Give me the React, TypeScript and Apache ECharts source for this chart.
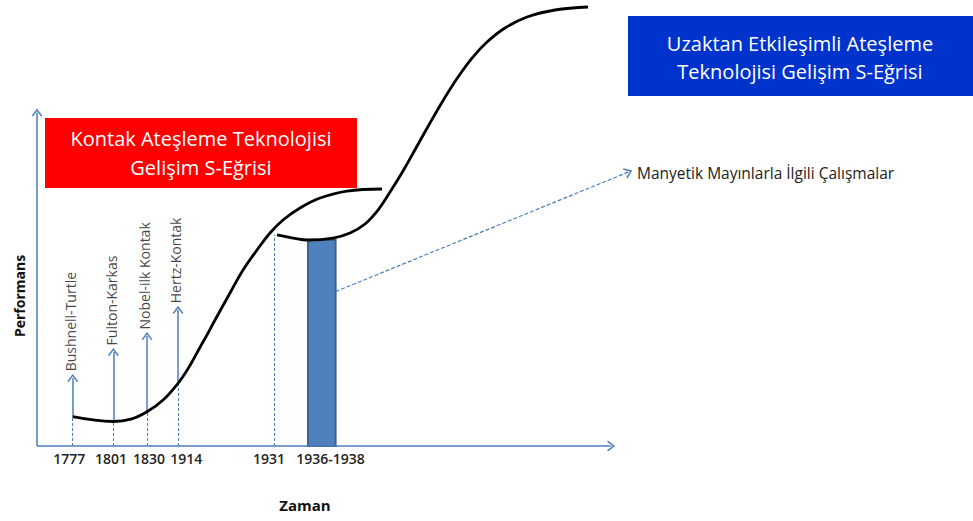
import React, { useEffect, useRef } from "react";
import * as echarts from "echarts";

// Abstract time positions (x) and performance (y)
const tickLabels = ["1777", "1801", "1830", "1914", "1931", "1936-1938"];
const tickLabelPos = [5.6, 12.9, 19.5, 26.0, 40.4, 51.1];

const contactX = [6.22, 13.24, 19.16, 24.56, 28.91, 31.0, 33.61, 35.88, 38.31, 40.58, 42.84, 45.8, 49.29, 53.99, 60.08];
const contactY = [8.82, 7.38, 10.33, 18.88, 31.32, 37.94, 46.07, 53.0, 59.02, 64.14, 68.05, 71.67, 74.68, 76.78, 77.39];

const remoteX = [41.8, 44.58, 47.2, 51.55, 54.51, 57.12, 59.39, 61.48, 63.74, 66.0, 68.44, 70.88, 73.32, 75.76, 78.37, 81.5, 85.34, 90.21, 95.96];
const remoteY = [63.54, 62.63, 62.03, 62.63, 64.14, 66.85, 71.06, 76.48, 82.81, 89.73, 97.26, 104.49, 111.11, 116.83, 121.65, 125.87, 129.18, 131.29, 132.19];

const milestoneNames = ["Bushnell-Turtle", "Fulton-Karkas", "Nobel-ilk Kontak", "Hertz-Kontak"];
const milestonePos = [6.22, 13.3, 19.16, 24.56];
const milestoneCurveY = [8.82, 7.38, 10.33, 18.88];
const milestoneTipY = [20.5, 28.3, 33.1, 41.0];

const year1931Pos = 41.3;
const year1931Y = 63.5;
const magneticRange = [47.2, 52.0];
const magneticTop = 62.0;
const magneticArrowFrom = [52.0, 46.5];
const magneticArrowTo = [103.0, 82.5];
const axisEnd = [100, 100.4];

const AXIS_COLOR = "#4A7EBB";
const CHEVRON = "path://M0,10 L6,0 L12,10 L10.4,10.9 L6,3.2 L1.6,10.9 Z";

function seg(from: number[], to: number[], style: any, arrow: boolean) {
  return [
    { coord: from, symbol: "none", lineStyle: style },
    { coord: to, symbol: arrow ? CHEVRON : "none", symbolSize: [11, 8], lineStyle: style },
  ];
}

export default function App() {
  const ref = useRef<HTMLDivElement>(null);
  useEffect(() => {
    if (!ref.current) return;
    const chart = echarts.init(ref.current, undefined, { renderer: "svg" });

    const solid = { color: AXIS_COLOR, width: 1.5, type: "solid" };
    const dashed = { color: AXIS_COLOR, width: 1.2, type: [4, 2] };
    const thinDashed = { color: AXIS_COLOR, width: 1, type: [3, 2] };

    const lines: any[] = [
      seg([0, 0], [0, axisEnd[1]], solid, true),
      seg([0, 0], [axisEnd[0], 0], solid, true),
      seg([year1931Pos, 0], [year1931Pos, year1931Y], thinDashed, false),
      seg(magneticArrowFrom, magneticArrowTo, dashed, true),
    ];
    milestonePos.forEach((x, i) => {
      lines.push(seg([x, 0], [x, milestoneCurveY[i]], thinDashed, false));
      lines.push(seg([x, milestoneCurveY[i]], [x, milestoneTipY[i]], solid, true));
    });

    chart.setOption({
      animation: false,
      grid: { left: 37, top: 1, width: 936, height: 445 },
      xAxis: {
        type: "value",
        min: 0,
        max: 163,
        axisLine: { show: false },
        axisTick: { show: false },
        splitLine: { show: false },
        axisLabel: {
          customValues: tickLabelPos,
          margin: 5,
          color: "#222",
          fontFamily: "Open Sans",
          fontSize: 14,
          fontWeight: 600,
          formatter: (v: number) => {
            const i = tickLabelPos.findIndex((p) => Math.abs(p - v) < 0.01);
            return i >= 0 ? tickLabels[i] : "";
          },
        },
      },
      yAxis: {
        type: "value",
        min: 0,
        max: 134,
        show: false,
      },
      series: [
        {
          type: "line",
          name: "Kontak",
          data: contactX.map((x, i) => [x, contactY[i]]),
          smooth: 0.4,
          showSymbol: false,
          lineStyle: { color: "#000", width: 2.8 },
          z: 5,
          silent: true,
          markArea: {
            silent: true,
            data: [
              [
                { coord: [magneticRange[0], 0] },
                { coord: [magneticRange[1], magneticTop] },
              ],
            ],
            itemStyle: { color: "#4F81BD", borderColor: "#3A6190", borderWidth: 2, opacity: 1 },
            label: { show: false },
          },
          markLine: {
            silent: true,
            animation: false,
            label: { show: false },
            symbol: "none",
            data: lines,
          },
        },
        {
          type: "line",
          name: "Uzaktan",
          data: remoteX.map((x, i) => [x, remoteY[i]]),
          smooth: 0.4,
          showSymbol: false,
          lineStyle: { color: "#000", width: 2.8 },
          z: 5,
          silent: true,
        },
        {
          type: "scatter",
          name: "milestones",
          symbolSize: 0,
          silent: true,
          data: milestonePos.map((x, i) => ({ value: [x - 0.4, milestoneTipY[i] + 2.0], name: milestoneNames[i] })),
          label: {
            show: true,
            position: "inside",
            rotate: 90,
            align: "left",
            verticalAlign: "middle",
            formatter: (p: any) => p.name,
            color: "#111",
            fontFamily: "Open Sans",
            fontSize: 14,
          },
        },
      ],
      graphic: [
        { type: "rect", shape: { x: 45, y: 118, width: 312, height: 70 }, style: { fill: "#FF0000" } },
        {
          type: "text",
          x: 201,
          y: 153,
          style: {
            text: "Kontak Ateşleme Teknolojisi\nGelişim S-Eğrisi",
            align: "center",
            verticalAlign: "middle",
            fill: "#fff",
            fontFamily: "Open Sans",
            fontSize: 20,
            lineHeight: 29,
          },
        },
        { type: "rect", shape: { x: 628, y: 16, width: 345, height: 80 }, style: { fill: "#0033CC" } },
        {
          type: "text",
          x: 800,
          y: 57,
          style: {
            text: "Uzaktan Etkileşimli Ateşleme\nTeknolojisi Gelişim S-Eğrisi",
            align: "center",
            verticalAlign: "middle",
            fill: "#fff",
            fontFamily: "Open Sans",
            fontSize: 20,
            lineHeight: 28,
          },
        },
        {
          type: "text",
          x: 637,
          y: 173,
          style: {
            text: "Manyetik Mayınlarla İlgili Çalışmalar",
            align: "left",
            verticalAlign: "middle",
            fill: "#222",
            fontFamily: "Open Sans",
            fontSize: 15.5,
          },
        },
        {
          type: "text",
          x: 19,
          y: 296,
          rotation: Math.PI / 2,
          style: {
            text: "Performans",
            align: "center",
            verticalAlign: "middle",
            fill: "#111",
            fontFamily: "Open Sans",
            fontSize: 14,
            fontWeight: "bold",
          },
        },
        {
          type: "text",
          x: 305,
          y: 505,
          style: {
            text: "Zaman",
            align: "center",
            verticalAlign: "middle",
            fill: "#111",
            fontFamily: "Open Sans",
            fontSize: 15,
            fontWeight: "bold",
          },
        },
      ],
    });
    return () => chart.dispose();
  }, []);
  return <div ref={ref} style={{ position: "absolute", left: 0, top: 0, width: 973, height: 521 }} />;
}
